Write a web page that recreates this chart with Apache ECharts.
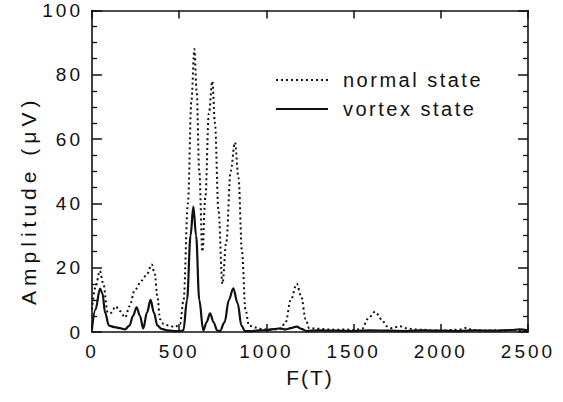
<!DOCTYPE html>
<html>
<head>
<meta charset="utf-8">
<script src="https://cdn.jsdelivr.net/npm/echarts@6/dist/echarts.min.js"></script>
<style>html,body{margin:0;padding:0;background:#fff}#c{width:563px;height:402px}</style>
</head>
<body>
<div id="c"></div>
<script>
const xTicks = [0, 500, 1000, 1500, 2000, 2500];
const yTicks = [0, 20, 40, 60, 80, 100];
const seriesNames = ['normal state', 'vortex state'];
const xTitle = 'F(T)';
const yTitle = 'Amplitude (\u03bcV)';

const normalF = [0,20,45,65,90,110,135,160,190,215,245,285,315,342,360,375,390,410,440,475,505,525,550,570,587,600,615,633,650,670,690,705,725,748,770,795,820,840,860,880,900,930,960,1000,1040,1080,1110,1140,1174,1200,1225,1245,1300,1350,1400,1450,1500,1550,1580,1623,1660,1690,1720,1766,1800,1850,1900,1950,2000,2050,2100,2148,2180,2250,2300,2350,2400,2450,2500];
const normalAmp = [7,14,19,15,6,6,8,6.5,4.5,8,13,16,18,21,18,11,4,2.5,2,1.5,2.5,10,40,72,88,75,50,25,42,68,78,65,38,15,28,50,59,48,25,7,2,1.5,1,0.8,0.8,1,3,10,15,11,4,1.2,1,0.8,0.7,0.8,0.6,1,4,6.3,4,1.8,1.2,1.8,1.2,0.8,0.7,0.5,0.4,0.6,0.7,1.3,0.6,0.4,0.5,0.4,0.6,0.5,0.3];

const vortexF = [0,20,46,60,75,97,130,160,189,215,235,256,275,294,315,336,355,375,399,430,470,500,524,545,565,581,597,615,638,657,677,697,718,734,760,785,810,835,857,877,920,960,1000,1040,1080,1110,1140,1174,1200,1230,1300,1400,1500,1600,1700,1800,1900,2000,2100,2200,2300,2400,2450,2500];
const vortexAmp = [1,7,13.5,12,6,2,1.5,1.2,0.8,2,5,7.7,5,1.1,6,10,6,2,1,0.5,0.3,0.3,0.5,10,30,39,30,10,0.5,3,5.8,3,0.5,0.3,3,10,13.6,9,2,0.3,0.3,0.5,0.6,0.9,1.1,0.8,1.2,1.7,1,0.3,0.5,0.4,0.3,0.5,0.4,0.3,0.5,0.4,0.3,0.5,0.4,0.6,0.8,0.5];

const FONT = 'Liberation Sans, Arial, Helvetica, sans-serif';
const INK = '#111';
const chart = echarts.init(document.getElementById('c'), null, {renderer: 'svg'});

function xAxisDef(pos, labels) {
  return {
    type: 'value', position: pos, min: xTicks[0], max: xTicks[xTicks.length - 1], interval: 500,
    axisLine: {show: true, onZero: false, lineStyle: {color: INK, width: 1.6}},
    axisTick: {show: true, inside: true, length: 8, lineStyle: {color: INK, width: 1.5}},
    axisLabel: {show: labels, color: INK, fontSize: 19, fontFamily: FONT, margin: 10, formatter: v => String(v)},
    splitLine: {show: false},
    name: labels ? xTitle : '', nameLocation: 'middle', nameGap: 35,
    nameTextStyle: {color: INK, fontSize: 21, fontFamily: FONT}
  };
}
function yAxisDef(pos, labels) {
  return {
    type: 'value', position: pos, min: yTicks[0], max: yTicks[yTicks.length - 1], interval: 20,
    axisLine: {show: true, onZero: false, lineStyle: {color: INK, width: 1.6}},
    axisTick: {show: true, inside: true, length: 10, lineStyle: {color: INK, width: 1.5}},
    minorTick: {show: true, splitNumber: 4, length: 5, lineStyle: {color: INK, width: 1.3}},
    axisLabel: {show: labels, color: INK, fontSize: 19, fontFamily: FONT, margin: 9, formatter: v => String(v)},
    splitLine: {show: false},
    name: labels ? yTitle : '', nameLocation: 'middle', nameGap: 53, nameRotate: 90,
    nameTextStyle: {color: INK, fontSize: 21, fontFamily: FONT, padding: [0, 58, 0, 0]}
  };
}

chart.setOption({
  animation: false,
  backgroundColor: '#fff',
  grid: {left: 92, right: 35, top: 10.5, bottom: 70, containLabel: false},
  legend: {
    orient: 'vertical', left: 270, top: 65, itemWidth: 52, itemHeight: 14, itemGap: 9,
    itemStyle: {opacity: 0},
    textStyle: {color: INK, fontSize: 20, fontFamily: FONT, padding: [0, 0, 0, 10]},
    data: seriesNames
  },
  xAxis: [xAxisDef('bottom', true), xAxisDef('top', false)],
  yAxis: [yAxisDef('left', true), yAxisDef('right', false)],
  series: [
    {
      name: seriesNames[0], type: 'line', xAxisIndex: 0, yAxisIndex: 0,
      data: normalF.map((f, i) => [f, normalAmp[i]]),
      smooth: 0.35, smoothMonotone: 'x', showSymbol: false, symbol: 'none',
      lineStyle: {color: INK, width: 2, type: [2, 3]}, itemStyle: {color: INK}
    },
    {
      name: seriesNames[1], type: 'line', xAxisIndex: 0, yAxisIndex: 0,
      data: vortexF.map((f, i) => [f, vortexAmp[i]]),
      smooth: 0.35, smoothMonotone: 'x', showSymbol: false, symbol: 'none',
      lineStyle: {color: INK, width: 2.2, type: 'solid'}, itemStyle: {color: INK}
    }
  ]
});

// old typeset look: widen letter spacing of the text (presentation only)
document.querySelectorAll('#c svg text').forEach(t => {
  const s = t.textContent;
  let sp = '3px';
  if (s === yTitle) sp = '5px';
  else if (s === xTitle) sp = '2px';
  else if (seriesNames.indexOf(s) >= 0) sp = '2.5px';
  t.style.letterSpacing = sp;
});
</script>
</body>
</html>
